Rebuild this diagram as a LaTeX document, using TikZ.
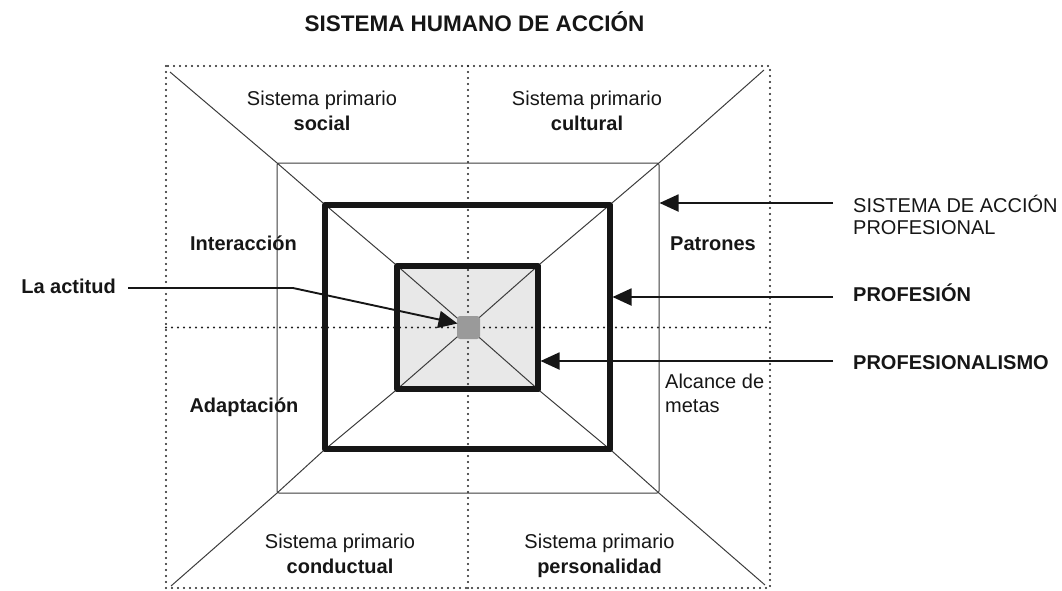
\documentclass[tikz,border=0pt]{standalone}
\usepackage{fontspec}
\setmainfont{Liberation Sans}
\usetikzlibrary{arrows.meta}
\definecolor{ink}{HTML}{161616}
\definecolor{linec}{HTML}{3C3C3C}
\definecolor{dotc}{HTML}{202020}
\definecolor{fillc}{HTML}{E8E8E8}
\definecolor{sqc}{HTML}{9A9A9A}
\begin{document}
\begin{tikzpicture}[x=1pt,y=-1pt,
  txt/.style={font=\fontsize{20}{24}\selectfont, text=ink, inner sep=0pt},
  bold/.style={font=\fontsize{20}{24}\selectfont\bfseries, text=ink, inner sep=0pt},
  ttl/.style={font=\fontsize{22.5}{27}\selectfont\bfseries, text=ink, inner sep=0pt},
  dots/.style={draw=dotc, line width=2.1pt, line cap=round, dash pattern=on 0pt off 6pt},
  thinline/.style={draw=linec, line width=1pt},
  thinbox/.style={draw=linec, line width=1pt, rounded corners=2pt, inner sep=0pt},
  thickbox/.style={draw=ink, line width=5pt, line join=round, inner sep=0pt},
  thickborder/.style={draw=ink, line width=5.2pt, line join=round},
  arr/.style={draw=ink, line width=1.9pt, -{Triangle[length=19pt,width=17pt]}}
]
\useasboundingbox (0,0) rectangle (1062,590);

% boxes
\node[thinbox, minimum width=382pt, minimum height=330pt] (mid) at (468,328) {};
\node[thickbox, minimum width=285pt, minimum height=244pt] (prof) at (467.5,327) {};
\node[thickbox, fill=fillc, minimum width=141pt, minimum height=123pt] (inner) at (467.5,327.5) {};
\coordinate (c) at (468,327.5);

% diagonals
\coordinate (TL) at (170,72);
\coordinate (TR) at (764,70);
\coordinate (BL) at (171,586);
\coordinate (BR) at (765,585);
\draw[thinline] (TL) -- (mid.north west) -- (prof.north west) -- (inner.north west) -- (c);
\draw[thinline] (TR) -- (mid.north east) -- (prof.north east) -- (inner.north east) -- (c);
\draw[thinline] (BL) -- (mid.south west) -- (prof.south west) -- (inner.south west) -- (c);
\draw[thinline] (BR) -- (mid.south east) -- (prof.south east) -- (inner.south east) -- (c);

% dotted grid
\coordinate (o1) at (166,66);
\coordinate (o2) at (770,588);
\draw[dots] (o1) rectangle (o2);
\draw[dots] (468,66) -- (468,588);
\draw[dots] (166,327.5) -- (770,327.5);

% thick borders on top
\draw[thickborder] (prof.north west) ++(2.5,2.5) rectangle ([shift={(-2.5,-2.5)}]prof.south east);
\draw[thickborder] (inner.north west) ++(2.5,2.5) rectangle ([shift={(-2.5,-2.5)}]inner.south east);

% center square
\node[fill=sqc, rounded corners=3pt, minimum width=23pt, minimum height=23pt, inner sep=0pt] (sq) at (468.5,327.5) {};

% title
\node[ttl] (title) at (474.5,22) {SISTEMA HUMANO DE ACCIÓN};

% quadrant texts
\node[txt, anchor=base] (s1a) at (322,105) {Sistema primario};
\node[bold, anchor=base] (s1b) at (322,130) {social};
\node[txt, anchor=base] (s2a) at (587,105) {Sistema primario};
\node[bold, anchor=base] (s2b) at (587,130) {cultural};
\node[txt, anchor=base] (s3a) at (340,548) {Sistema primario};
\node[bold, anchor=base] (s3b) at (340,573) {conductual};
\node[txt, anchor=base] (s4a) at (599.5,548) {Sistema primario};
\node[bold, anchor=base] (s4b) at (599.5,573) {personalidad};

\node[bold, anchor=base] (inter) at (243.5,250) {Interacción};
\node[bold, anchor=base west] (patr) at (670,250) {Patrones};
\node[bold, anchor=base] (adap) at (244,412) {Adaptación};
\node[txt, anchor=base west] (alc1) at (665,388) {Alcance de};
\node[txt, anchor=base west] (alc2) at (665,412) {metas};

% right labels
\node[txt, anchor=base west] (sap1) at (853,212) {SISTEMA DE ACCIÓN};
\node[txt, anchor=base west] (sap2) at (853,234) {PROFESIONAL};
\node[bold, anchor=base west] (pf) at (853,301) {PROFESIÓN};
\node[bold, anchor=base west] (pfm) at (853,369) {PROFESIONALISMO};

\coordinate (tS) at (833,203);
\coordinate (tP) at (833,297);
\coordinate (tM) at (833,361);
\draw[arr] (tS) -- (tS -| mid.east);
\draw[arr] (tP) -- (tP -| prof.east);
\draw[arr] (tM) -- (tM -| inner.east);

% la actitud
\node[bold, anchor=base east] (act) at (116,293) {La actitud};
\coordinate (a0) at (128,288);
\coordinate (a1) at (293,288);
\coordinate (a2) at (457.5,323.5);
\draw[arr, line join=round] (a0) -- (a1) -- (a2);
\end{tikzpicture}
\end{document}
